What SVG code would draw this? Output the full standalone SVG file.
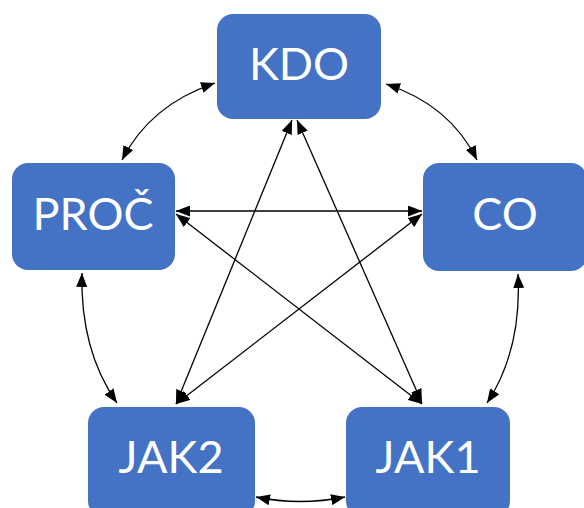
<svg xmlns="http://www.w3.org/2000/svg" width="584" height="508" viewBox="0 0 584 508">
<style>
.box{fill:#4472C4;}
.lbl{font-family:Lato,"Liberation Sans",sans-serif;font-size:45px;fill:#fff;text-anchor:middle;}
.c{fill:none;stroke:#000;stroke-width:1.3;marker-start:url(#ah);marker-end:url(#ah);}
</style>
<defs>
<marker id="ah" viewBox="0 0 14 11" refX="14" refY="5.5" markerWidth="14" markerHeight="11" markerUnits="userSpaceOnUse" orient="auto-start-reverse">
<path d="M0,0 L14,5.5 L0,11 Z" fill="#000"/>
</marker>
</defs>
<rect width="584" height="508" fill="#fff"/>
<g id="connectors">
<path class="c" d="M215,83 Q150,105 122,160"/>
<path class="c" d="M386,84 Q450,105 477,160"/>
<path class="c" d="M82,273 Q80,350 117,403"/>
<path class="c" d="M518,274 Q522,350 487,403"/>
<path class="c" d="M256,497 Q300,506 345,497"/>
<path class="c" d="M176,211 L422,211"/>
<path class="c" d="M176,214 L422,404"/>
<path class="c" d="M422,214 L176,404"/>
<path class="c" d="M292,120 L176,404"/>
<path class="c" d="M297,120 L422,403"/>
</g>
<g id="KDO"><rect class="box" x="217" y="14" width="164" height="105" rx="16"/><text class="lbl" x="299" y="80">KDO</text></g>
<g id="PROC"><rect class="box" x="12" y="163" width="163" height="107" rx="16"/><text class="lbl" x="93" y="230">PROČ</text></g>
<g id="CO"><rect class="box" x="423" y="163" width="164" height="108" rx="16"/><text class="lbl" x="505" y="230">CO</text></g>
<g id="JAK2"><rect class="box" x="88" y="407" width="167" height="110" rx="16"/><text class="lbl" x="171" y="473">JAK2</text></g>
<g id="JAK1"><rect class="box" x="346" y="407" width="164" height="110" rx="16"/><text class="lbl" x="428" y="473">JAK1</text></g>
</svg>
